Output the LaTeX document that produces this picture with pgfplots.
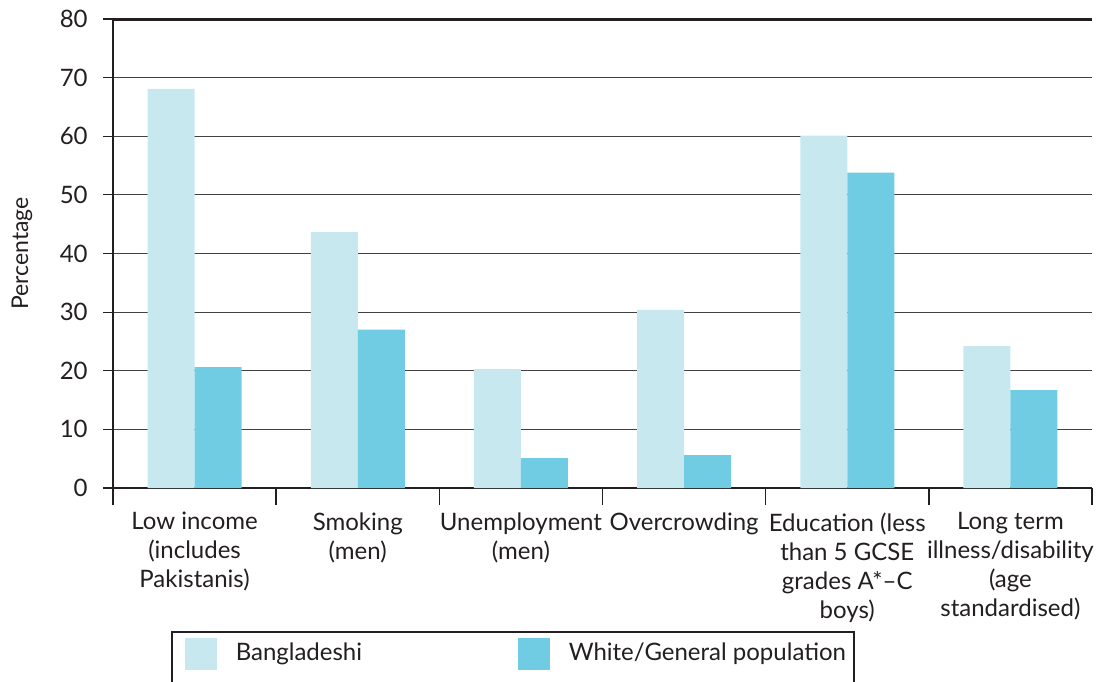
\documentclass[border=0pt]{standalone}
\usepackage{pgfplots}
\pgfplotsset{compat=1.18}
\usepackage{fontspec}
\setmainfont{Lato}
\definecolor{bang}{RGB}{200,232,240}
\definecolor{wgp}{RGB}{112,204,226}
\definecolor{ink}{RGB}{35,31,32}
\begin{document}
\fontsize{12}{14.5}\selectfont
\begin{tikzpicture}
\begin{axis}[
  at={(0,0)}, anchor=south west,
  scale only axis, width=489.5pt, height=234.5pt,
  xmin=-0.5, xmax=5.5, ymin=0, ymax=80,
  axis x line*=bottom, axis y line*=left,
  axis line style={ink, line width=0.7pt},
  tick align=outside,
  ytick={0,10,...,70},
  extra y ticks={80},
  extra y tick style={grid style={ink, line width=1.5pt}, major tick style={line width=1.5pt}},
  ymajorgrids,
  grid style={ink!85, line width=0.6pt},
  major tick length=5pt, minor tick length=8.5pt,
  xtick={0,...,5},
  minor xtick={-0.5,0.5,...,5.5},
  major x tick style={draw=none},
  minor x tick style={ink, line width=0.7pt},
  ytick style={ink, line width=0.6pt},
  xticklabels={Low income\\(includes\\Pakistanis), Smoking\\(men), Unemployment\\(men), Overcrowding, Education (less\\than 5 GCSE\\grades A*–C\\boys), Long term\\illness/disability\\(age\\standardised)},
  xticklabel style={align=center, text=ink, font=\fontsize{12}{14.5}\selectfont, yshift=-3pt},
  yticklabel style={text=ink, font=\fontsize{12}{14.5}\selectfont, xshift=-3.5pt},
  /pgf/number format/assume math mode=true,
  ylabel={Percentage},
  ylabel style={at={(rel axis cs:0,0.5)}, anchor=center, yshift=45.5pt, text=ink, font=\fontsize{11.5}{13}\selectfont},
  ybar=0pt, bar width=23.5pt,
  legend columns=2,
  legend style={at={(rel axis cs:0.0592,-0.3049)}, anchor=north west, draw=ink, line width=0.8pt,
    inner xsep=1pt, inner ysep=3pt, font=\fontsize{12}{14.5}\selectfont, text=ink,
    /tikz/every odd column/.style={column sep=7.5pt}},
  legend cell align=left,
  legend image code/.code={\path (0pt,0pt) (0pt,-20pt); \path[#1, draw=none] (5.5pt,-8pt) rectangle (21.5pt,8pt);},
]
\addplot[fill=bang, draw=none] coordinates {(0,68.1) (1,43.7) (2,20.3) (3,30.4) (4,60.1) (5,24.2)};
\addlegendentry{\makebox[133.5pt][l]{Bangladeshi}}
\addplot[fill=wgp, draw=none] coordinates {(0,20.6) (1,27.0) (2,5.1) (3,5.6) (4,53.8) (5,16.7)};
\addlegendentry{\makebox[139.5pt][l]{White/General population}}
\end{axis}
\pgfresetboundingbox
\useasboundingbox (-56.5pt,-96.5pt) rectangle (496.5pt,244pt);
\end{tikzpicture}
\end{document}
